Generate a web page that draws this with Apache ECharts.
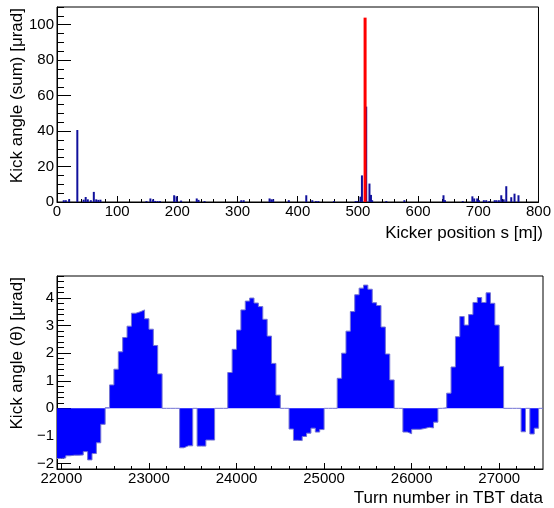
<!DOCTYPE html>
<html>
<head>
<meta charset="utf-8">
<script src="https://cdn.jsdelivr.net/npm/echarts@6/dist/echarts.min.js"></script>
<style>
  html, body { margin: 0; padding: 0; background: #fff; }
  #chart { width: 554px; height: 508px; }
</style>
</head>
<body>
<div id="chart"></div>
<script>
  // top pad: summed kick angle per kicker position
  var kickerPos = [12, 15.5, 21, 34.6, 45, 48.5, 52, 57, 62, 66, 69.5, 73,
    149.5, 156, 160.5, 164, 168, 172, 195.5, 199.5, 207, 233, 236, 246,
    307, 311, 354, 357, 360, 386, 415, 425, 431, 435, 461, 497, 500,
    505, 507.5, 514.6, 520, 522.5, 524.5, 548, 578, 643, 645.5, 675,
    691, 694, 699, 702, 710, 714, 719, 728, 731, 735, 739, 743, 747.3,
    755.6, 761, 767.6]
  var kickSum = [1.0, 1.0, 1.6, 40.6, 1.3, 2.8, 1.5, 1.0, 5.7, 1.5, 1.2, 1.3,
    0.5, 2.0, 1.5, 0.6, 0.5, 0.5, 3.8, 3.2, 0.8, 2.0, 1.2, 0.5,
    1.0, 1.0, 2.0, 1.5, 1.5, 1.0, 3.8, 1.0, 0.5, 0.5, 0.5, 0.5, 0.5,
    3.0, 15, 53.8, 10.4, 4.0, 1.0, 0.5, 1.0, 3.8, 1.0, 0.5,
    3.2, 2.0, 2.0, 1.0, 1.0, 1.0, 0.5, 1.0, 1.0, 1.0, 3.8, 1.5, 8.9,
    2.7, 4.7, 3.8]
  var peakPos = [511.9]
  var peakSum = [104]

  // bottom pad: kick angle in 50-turn bins starting at 21950
  var binStart = 21950
  var binWidth = 50
  var kickTheta = [
    -1.82, -1.8, -1.72, -1.7, -1.7, -1.69, -1.57, -1.87, -1.64, -1.25, -0.58, 0.02,
    0.85, 1.42, 2.05, 2.57, 2.98, 3.45, 3.5, 3.57, 3.25, 2.87, 2.28, 1.25,
    0, 0, 0, 0,
    -1.43, -1.36, -1.36, 0, -1.37, -1.37, -1.15, -1.15,
    0, 0, 0,
    1.3, 2.14, 2.84, 3.57, 3.89, 4.0, 3.82, 3.69, 3.23, 2.62, 1.63, 0.48,
    0, 0,
    -0.75, -1.16, -1.17, -1.02, -0.9, -0.72, -0.86, -0.77,
    0, 0, 0,
    1.09, 2.0, 2.8, 3.51, 4.12, 4.36, 4.47, 4.32, 3.83, 3.73, 2.95, 1.97, 1.03,
    0, 0,
    -0.86, -0.92, -0.76, -0.76, -0.73, -0.69, -0.71, -0.5,
    0, 0.02,
    0.55, 1.5, 2.6, 3.33, 3.02, 3.4, 3.84, 4.02, 3.84, 4.19, 3.81, 3.02, 1.52,
    0, 0, 0, 0,
    -0.85, 0, -0.93, -0.72, 0
  ]

  var topXLabels = [0, 100, 200, 300, 400, 500, 600, 700, 800]
  var topYLabels = [0, 20, 40, 60, 80, 100]
  var botXLabels = [22000, 23000, 24000, 25000, 26000, 27000]
  var botYLabels = [-2, -1, 0, 1, 2, 3, 4]

  var FONT = '"Liberation Sans", Arial, sans-serif'

  function steps (from, to, step) {
    var out = []
    for (var i = 0; from + i * step <= to + 1e-9; i++) {
      out.push(+(from + i * step).toFixed(6))
    }
    return out
  }

  function pairs (xs, ys) {
    return xs.map(function (x, i) { return [x, ys[i]] })
  }

  // plain numbers, no thousands separator, real minus sign
  function plain (v) {
    return v < 0 ? '\u2212' + String(-v) : String(v)
  }

  var histData = pairs(kickTheta.map(function (v, i) { return binStart + i * binWidth }), kickTheta)
  histData.push([binStart + kickTheta.length * binWidth, kickTheta[kickTheta.length - 1]])

  function axis (grid, pos, min, max, labels, tickLen, margin) {
    return {
      type: 'value', gridIndex: grid, position: pos, min: min, max: max,
      axisLine: { show: true, onZero: false, lineStyle: { color: '#000', width: 1 } },
      axisTick: { show: true, inside: true, length: tickLen, customValues: labels,
        lineStyle: { color: '#000', width: 1 } },
      axisLabel: { show: true, customValues: labels, formatter: plain, color: '#000', fontFamily: FONT,
        fontSize: 15, margin: margin, showMinLabel: true, showMaxLabel: true },
      splitLine: { show: false }
    }
  }

  function minorAxis (grid, pos, min, max, ticks, tickLen) {
    return {
      type: 'value', gridIndex: grid, position: pos, min: min, max: max,
      axisLine: { show: false, onZero: false },
      axisTick: { show: true, inside: true, length: tickLen, customValues: ticks,
        lineStyle: { color: '#000', width: 1 } },
      axisLabel: { show: false },
      splitLine: { show: false }
    }
  }

  var chart = echarts.init(document.getElementById('chart'), null, { renderer: 'canvas' })

  var option = {
    animation: false,
    backgroundColor: '#fff',
    grid: [
      { left: 57, top: 7, width: 486, height: 195, show: true, borderColor: '#000', borderWidth: 1 },
      { left: 57, top: 276, width: 486, height: 193, show: true, borderColor: '#000', borderWidth: 1 }
    ],
    xAxis: [
      axis(0, 'bottom', 0, 800, topXLabels, 6, 2),
      minorAxis(0, 'bottom', 0, 800, steps(0, 800, 20), 3),
      axis(1, 'bottom', 21950, 27500, botXLabels, 6, 2),
      minorAxis(1, 'bottom', 21950, 27500, steps(22000, 27400, 200), 3)
    ],
    yAxis: [
      axis(0, 'left', 0, 110, topYLabels, 14, 3),
      minorAxis(0, 'left', 0, 110, steps(0, 110, 5), 7),
      axis(1, 'left', -2.2, 4.8, botYLabels, 14, 3),
      minorAxis(1, 'left', -2.2, 4.8, steps(-2.2, 4.8, 0.2), 7)
    ],
    graphic: [
      { type: 'text', x: 17, y: 8, rotation: Math.PI / 2,
        style: { text: 'Kick angle (sum) [μrad]', fontFamily: FONT, fontSize: 17, fill: '#000',
          align: 'right', verticalAlign: 'middle' } },
      { type: 'text', x: 543, y: 233,
        style: { text: 'Kicker position s [m])', fontFamily: FONT, fontSize: 17, fill: '#000',
          align: 'right', verticalAlign: 'middle' } },
      { type: 'text', x: 17, y: 277, rotation: Math.PI / 2,
        style: { text: 'Kick angle (θ) [μrad]', fontFamily: FONT, fontSize: 17, fill: '#000',
          align: 'right', verticalAlign: 'middle' } },
      { type: 'text', x: 543, y: 498,
        style: { text: 'Turn number in TBT data', fontFamily: FONT, fontSize: 17, fill: '#000',
          align: 'right', verticalAlign: 'middle' } }
    ],
    series: [
      {
        type: 'bar', xAxisIndex: 0, yAxisIndex: 0,
        data: pairs(kickerPos, kickSum),
        barWidth: 2, barGap: '-100%',
        itemStyle: { color: '#10109c' }
      },
      {
        type: 'bar', xAxisIndex: 0, yAxisIndex: 0,
        data: pairs(peakPos, peakSum),
        barWidth: 3, barGap: '-100%',
        itemStyle: { color: '#ff0000' }
      },
      {
        type: 'line', xAxisIndex: 2, yAxisIndex: 2,
        data: histData,
        step: 'end',
        showSymbol: false,
        lineStyle: { color: '#7474d4', width: 1 },
        areaStyle: { color: '#0000ff', opacity: 1 }
      }
    ]
  }

  chart.setOption(option)
</script>
</body>
</html>
